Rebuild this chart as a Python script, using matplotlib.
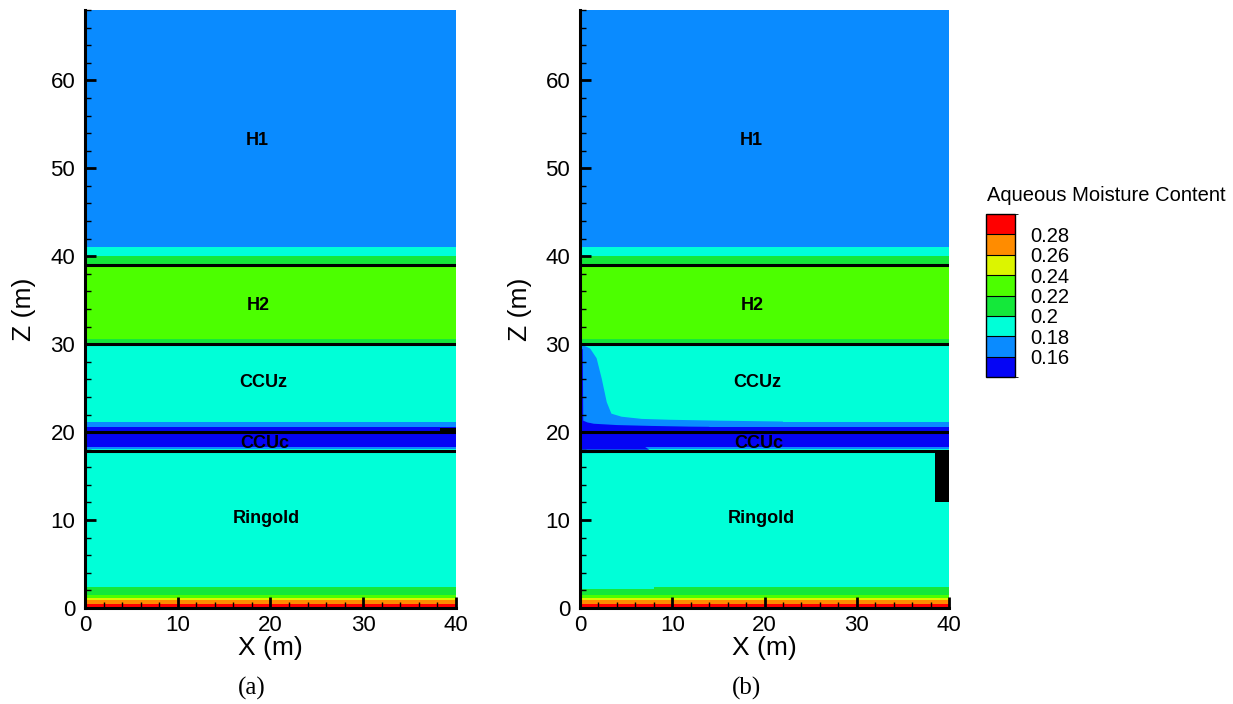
import matplotlib.pyplot as plt
from matplotlib.colors import ListedColormap, BoundaryNorm
from matplotlib.cm import ScalarMappable
from matplotlib.ticker import MultipleLocator

plt.rcParams['font.family'] = ['Liberation Sans', 'DejaVu Sans']

# moisture classes and their colours
levels = [0.14, 0.16, 0.18, 0.20, 0.22, 0.24, 0.26, 0.28, 0.30]
colors = ['#0505f5', '#0a8bff', '#00ffd8', '#14e83a',
          '#4cff00', '#dcf500', '#ff8c00', '#ff0000']
cb_bounds = [0.15, 0.16, 0.18, 0.20, 0.22, 0.24, 0.26, 0.28, 0.29]
cb_ticks = [0.16, 0.18, 0.20, 0.22, 0.24, 0.26, 0.28]
cb_labels = ['0.16', '0.18', '0.2', '0.22', '0.24', '0.26', '0.28']

# initial moisture profile: band edges (m) and moisture in each band
z_edges = [0, 0.45, 0.85, 1.1, 1.5, 2.4, 18.05, 18.3, 20.6, 21.2,
           30.1, 30.6, 39.05, 40.0, 41.0, 68]
theta_bands = [0.29, 0.27, 0.25, 0.23, 0.21, 0.19, 0.17, 0.15, 0.17,
               0.19, 0.21, 0.23, 0.21, 0.19, 0.17]
x_edges = [0, 40]

# geologic contacts and unit names
contacts = [17.9, 20.0, 30.0, 39.0]
unit_names = ['H1', 'H2', 'CCUz', 'CCUc', 'Ringold']
unit_x = [18.6, 18.7, 19.2, 19.4, 19.6]
unit_z = [53.2, 34.4, 25.6, 18.75, 10.2]

# drained zone near the left boundary after pumping (panel b)
plume_x = [0, 0, 0.5, 1.1, 1.8, 2.35, 2.9, 3.4, 4.5, 6.7, 9.8, 15, 22, 22]
plume_z = [21.0, 29.8, 29.8, 29.5, 28.4, 26.1, 23.4, 22.1, 21.75, 21.5,
           21.4, 21.3, 21.2, 21.0]
dry_x = [0, 0, 0.3, 0.35, 0.8, 1.5, 4.0, 7.8, 12, 14, 14]
dry_z = [20.3, 29.6, 29.4, 21.3, 21.1, 20.95, 20.8, 20.7, 20.62, 20.6, 20.3]
ccuc_x = [0, 0, 7.0, 7.5]
ccuc_z = [18.0, 18.35, 18.35, 18.0]
fringe_x = [0, 0, 3, 8, 12, 12]
fringe_z = [17.95, 17.6, 17.62, 17.75, 17.9, 17.95]
capil_x = [0, 0, 8, 8]
capil_z = [2.15, 2.4, 2.4, 2.15]

# well screens
screen_a = ([38.3, 40, 40, 38.3], [20.15, 20.15, 20.5, 20.5])
screen_b = ([38.5, 40, 40, 38.5], [12.1, 12.1, 17.6, 17.6])

cmap = ListedColormap(colors)
norm = BoundaryNorm(levels, cmap.N)


def shade(value):
    return cmap(norm(value))


def draw_panel(ax, tag, screen, patches):
    C = [[t] for t in theta_bands]
    ax.pcolormesh(x_edges, z_edges, C, cmap=cmap, norm=norm, zorder=1)
    for px, pz, val in patches:
        ax.fill(px, pz, color=shade(val), lw=0, zorder=1.2)
    for zc in contacts:
        ax.plot(x_edges, [zc, zc], color='black', lw=2.2, zorder=2)
    ax.fill(screen[0], screen[1], color='black', lw=0, zorder=2)
    for name, ux, uz in zip(unit_names, unit_x, unit_z):
        ax.text(ux, uz, name, ha='center', va='center', fontsize=13,
                fontweight='bold', zorder=3)

    ax.set_xlim(0, 40)
    ax.set_ylim(0, 68)
    for side in ('top', 'right'):
        ax.spines[side].set_visible(False)
    for side in ('left', 'bottom'):
        ax.spines[side].set_linewidth(2.2)
    ax.xaxis.set_major_locator(MultipleLocator(10))
    ax.xaxis.set_minor_locator(MultipleLocator(2))
    ax.yaxis.set_major_locator(MultipleLocator(10))
    ax.yaxis.set_minor_locator(MultipleLocator(2))
    ax.tick_params(which='major', direction='in', length=8, width=2,
                   labelsize=16, pad=5)
    ax.tick_params(which='minor', direction='in', length=4.5, width=1)
    ax.tick_params(axis='y', which='major', pad=7)
    ax.set_xlabel('X (m)', fontsize=19, labelpad=0)
    ax.set_ylabel('Z (m)', fontsize=19, labelpad=10)
    ax.text(0.45, -0.135, tag, transform=ax.transAxes, ha='center',
            va='center', fontsize=18, family=['Liberation Serif'])


fig = plt.figure(figsize=(12.33, 7.04), dpi=100)
ax_a = fig.add_axes([0.0689, 0.1364, 0.3009, 0.8494])
ax_b = fig.add_axes([0.4704, 0.1364, 0.2993, 0.8494])

draw_panel(ax_a, '(a)', screen_a, [])
draw_panel(ax_b, '(b)', screen_b, [
    (capil_x, capil_z, 0.19),
    (plume_x, plume_z, 0.17),
    (dry_x, dry_z, 0.15),
    (ccuc_x, ccuc_z, 0.15),
    (fringe_x, fringe_z, 0.17),
])

cax = fig.add_axes([0.7995, 0.4645, 0.0238, 0.2315])
cb = fig.colorbar(ScalarMappable(norm=norm, cmap=cmap), cax=cax,
                  boundaries=cb_bounds, ticks=cb_ticks,
                  spacing='proportional', drawedges=True)
cb.set_ticklabels(cb_labels)
cb.outline.set_linewidth(1)
cb.dividers.set_linewidth(0.8)
cax.tick_params(length=0, labelsize=14.5, pad=11)
fig.text(987 / 1233, 1 - 196 / 704, 'Aqueous Moisture Content',
         ha='left', va='center', fontsize=14.5)

fig.savefig('out.png', dpi=100)
